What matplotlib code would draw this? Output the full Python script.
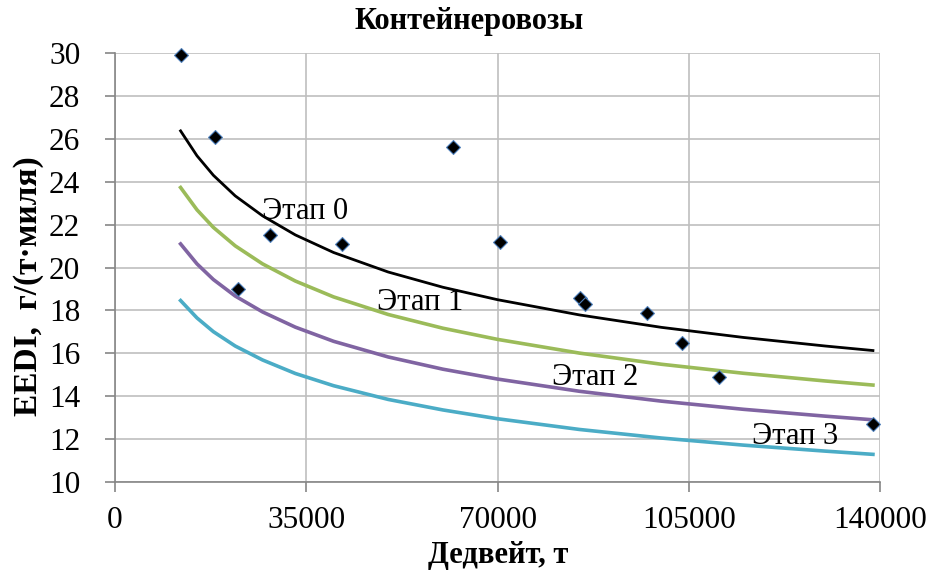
import matplotlib
matplotlib.use("Agg")
import matplotlib.pyplot as plt

plt.rcParams['font.family'] = ['Liberation Serif', 'DejaVu Serif']

# ships (deadweight, EEDI)
ships_dwt = [12000, 18300, 22500, 28400, 41500, 61800, 70400, 85100, 86000, 97300, 103700, 110600, 138700]
ships_eedi = [29.9, 26.1, 19.0, 21.5, 21.1, 25.6, 21.2, 18.6, 18.3, 17.9, 16.5, 14.9, 12.7]

# reference lines
line_dwt = [12000, 15000, 18000, 22000, 27000, 33000, 40000, 50000, 60000,
            70000, 85000, 100000, 115000, 130000, 138700]
stage0 = [26.37, 25.21, 24.30, 23.34, 22.41, 21.52, 20.70, 19.79, 19.08,
          18.50, 17.79, 17.21, 16.74, 16.34, 16.13]
stage1 = [23.73, 22.69, 21.87, 21.01, 20.17, 19.37, 18.63, 17.81, 17.17,
          16.65, 16.01, 15.49, 15.07, 14.71, 14.52]
stage2 = [21.10, 20.17, 19.44, 18.67, 17.93, 17.22, 16.56, 15.83, 15.26,
          14.80, 14.23, 13.77, 13.39, 13.07, 12.90]
stage3 = [18.46, 17.65, 17.01, 16.34, 15.69, 15.06, 14.49, 13.85, 13.36,
          12.95, 12.45, 12.05, 11.72, 11.44, 11.29]

stage_names = ['Этап 0', 'Этап 1', 'Этап 2', 'Этап 3']
stage_colors = ['black', '#9BBB59', '#8064A2', '#4BACC6']
stage_widths = [2.0, 2.6, 2.6, 2.6]
label_pos = [(34800, 22.6), (55800, 18.35), (87800, 14.85), (124400, 12.1)]

fig = plt.figure(figsize=(9.29, 5.75), dpi=100)
ax = fig.add_axes([0.1238, 0.1617, 0.8235, 0.7461])

for vals, c, lw in zip([stage0, stage1, stage2, stage3], stage_colors, stage_widths):
    ax.plot(line_dwt, vals, color=c, linewidth=lw, zorder=3)

ax.scatter(ships_dwt, ships_eedi, marker='D', s=50, c='black',
           edgecolors='#4F81BD', linewidths=0.8, zorder=5, clip_on=False)

for name, (lx, ly) in zip(stage_names, label_pos):
    ax.text(lx, ly, name, fontsize=22, ha='center', va='center', zorder=4)

ax.set_xlim(0, 140000)
ax.set_ylim(10, 30)
ax.set_xticks([0, 35000, 70000, 105000, 140000])
ax.set_yticks(range(10, 31, 2))
ax.grid(True, color='#BFBFBF', linewidth=1.2)
ax.set_axisbelow(True)
for s in ['top', 'right']:
    ax.spines[s].set_visible(False)
for s in ['left', 'bottom']:
    ax.spines[s].set_color('#868686')
    ax.spines[s].set_linewidth(1.2)
ax.tick_params(axis='both', direction='out', length=7, width=1.2,
               color='#868686', labelsize=22.5)
ax.tick_params(axis='y', pad=18)
ax.tick_params(axis='x', pad=10)

fig.text(469 / 929, 1 - 21 / 575, 'Контейнеровозы', fontsize=22,
         fontweight='bold', ha='center', va='center')
fig.text(498 / 929, 1 - 556 / 575, 'Дедвейт, т', fontsize=22,
         fontweight='bold', ha='center', va='center')
fig.text(29 / 929, 1 - 286 / 575, 'EEDI,  г/(т·миля)', fontsize=24,
         fontweight='bold', ha='center', va='center', rotation=90)

fig.savefig('out.png', dpi=100)
